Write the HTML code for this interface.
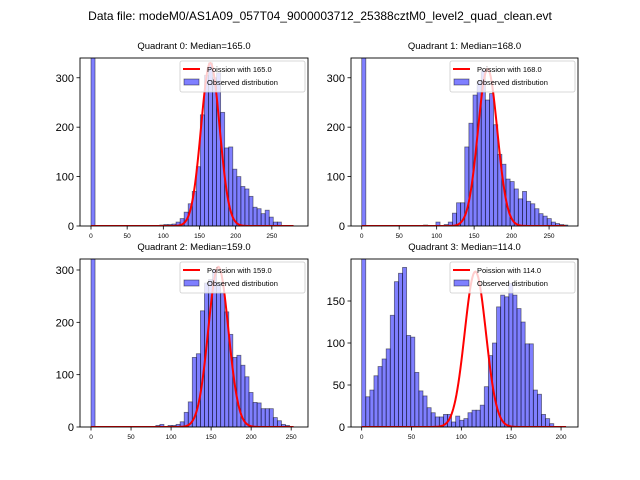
<!DOCTYPE html>
<html><head><meta charset="utf-8"><style>
html,body{margin:0;padding:0;background:#fff;}
svg{display:block;font-family:"Liberation Sans","DejaVu Sans",sans-serif;}
</style></head><body>
<svg id="fig" width="640" height="480" viewBox="0 0 640 480">
<rect width="640" height="480" fill="#fff"/>
<text x="320" y="20" text-anchor="middle" font-size="12" fill="#000">Data file: modeM0/AS1A09_057T04_9000003712_25388cztM0_level2_quad_clean.evt</text>
</svg>
<script>
const q0Counts=[1000,0,0,0,0,0,0,0,0,0,0,0,0,0,0,0,0,2,3,3,4,8,15,28,45,70,120,225,305,330,300,310,230,158,160,115,100,80,75,60,38,35,25,32,18,8,8];
const q1Counts=[1000,0,0,0,0,0,0,0,0,0,0,0,0,0,0,2,0,0,8,0,3,8,26,47,47,160,208,265,293,315,255,268,205,145,125,95,90,75,55,70,50,45,35,25,20,15,8,5,3,2];
const q2Counts=[1000,0,0,0,0,0,0,0,0,0,0,0,0,0,0,0,3,5,0,3,3,5,10,28,48,133,140,222,275,282,300,275,256,220,177,133,137,118,96,66,47,46,35,35,35,18,12,5,3];
const q3Counts=[1000,36,44,61,72,81,93,133,173,183,190,109,107,65,43,37,23,17,12,12,15,15,6,13,8,10,17,20,20,26,48,85,100,143,157,155,171,157,141,125,99,99,44,39,15,10,4];
const binWidths=[5.6,5.5,5.06,4.1];
const medians=[165.0,168.0,159.0,114.0];
const curvePeaks=[330,318,306,185];
const curveMax=[280,272,253,205];
const xTicks=[[0,50,100,150,200,250],[0,50,100,150,200,250],[0,50,100,150,200,250],[0,50,100,150,200]];
const yTicks=[[0,100,200,300],[0,100,200,300],[0,100,200,300],[0,50,100,150]];
const allCounts=[q0Counts,q1Counts,q2Counts,q3Counts];
const panels=[
 {x0:80,x1:308,y0:58,y1:226,xmin:-15.2,xmax:300,ymax:340},
 {x0:351,x1:578,y0:58,y1:226,xmin:-14.3,xmax:288.6,ymax:340},
 {x0:80,x1:308,y0:259,y1:427,xmin:-13.75,xmax:271,ymax:321},
 {x0:351,x1:578,y0:259,y1:427,xmin:-10.7,xmax:217,ymax:200}];
const NS="http://www.w3.org/2000/svg";
const svg=document.getElementById('fig');
function mk(tag,attrs,parent){const e=document.createElementNS(NS,tag);for(const k in attrs)e.setAttribute(k,attrs[k]);(parent||svg).appendChild(e);return e;}
panels.forEach((p,q)=>{
 const g=mk('g',{});
 
 
 const clipId='clip'+q;
 const cp=mk('clipPath',{id:clipId},g);
 mk('rect',{x:p.x0,y:p.y0,width:p.x1-p.x0,height:p.y1-p.y0},cp);
 const sx=v=>p.x0+(v-p.xmin)/(p.xmax-p.xmin)*(p.x1-p.x0);
 const sy=v=>p.y1-v/p.ymax*(p.y1-p.y0);
 const plot=mk('g',{'clip-path':'url(#'+clipId+')'},g);
 const bw=binWidths[q];
 allCounts[q].forEach((c,i)=>{
  if(c<=0)return;
  const r=mk('rect',{x:sx(i*bw),y:sy(c),width:sx((i+1)*bw)-sx(i*bw),height:sy(0)-sy(c),fill:'rgba(0,0,255,0.5)',stroke:'rgba(0,0,0,0.5)','stroke-width':0.8},plot);
  
  
 });
 const m=medians[q],sd=Math.sqrt(m);let d='';
 for(let x=0;x<=curveMax[q];x++){const v=curvePeaks[q]*Math.exp(-0.5*((x-m)/sd)**2);d+=(x?'L':'M')+sx(x).toFixed(2)+','+sy(v).toFixed(2);}
 const pl=mk('path',{d:d,fill:'none',stroke:'#ff0000','stroke-width':2},plot);
 
 
 const fr=mk('rect',{x:p.x0,y:p.y0,width:p.x1-p.x0,height:p.y1-p.y0,fill:'none',stroke:'#000','stroke-width':0.9},g);
 
 
 xTicks[q].forEach(t=>{
  mk('line',{x1:sx(t),x2:sx(t),y1:p.y1,y2:p.y1+3.5,stroke:'#000','stroke-width':0.8},g);
  const tx=mk('text',{x:sx(t),y:p.y1+12,'text-anchor':'middle','font-size':6.5},g);tx.textContent=t;
  
  
 });
 yTicks[q].forEach(t=>{
  mk('line',{x1:p.x0-3.5,x2:p.x0,y1:sy(t),y2:sy(t),stroke:'#000','stroke-width':0.8},g);
  const tx=mk('text',{x:p.x0-6,y:sy(t)+4,'text-anchor':'end','font-size':11},g);tx.textContent=t;
  
  
 });
 const tt=mk('text',{x:(p.x0+p.x1)/2,y:p.y0-9,'text-anchor':'middle','font-size':9.5},g);
 tt.textContent='Quadrant '+q+': Median='+m.toFixed(1);
 
 
 const lg=mk('g',{},g);
 
 
 const lx=p.x1-128,ly=p.y0+3;
 mk('rect',{x:lx,y:ly,width:125,height:31,rx:2,fill:'rgba(255,255,255,0.8)',stroke:'#ccc','stroke-width':0.8},lg);
 mk('line',{x1:lx+3,x2:lx+20,y1:ly+8,y2:ly+8,stroke:'#ff0000','stroke-width':2},lg);
 const t1=mk('text',{x:lx+27,y:ly+11,'font-size':7.5},lg);t1.textContent='Poission with '+m.toFixed(1);
 mk('rect',{x:lx+4,y:ly+18,width:15,height:6,fill:'rgba(0,0,255,0.5)',stroke:'rgba(0,0,0,0.5)','stroke-width':0.8},lg);
 const t2=mk('text',{x:lx+27,y:ly+24,'font-size':7.5},lg);t2.textContent='Observed distribution';
});
</script>
</body></html>
